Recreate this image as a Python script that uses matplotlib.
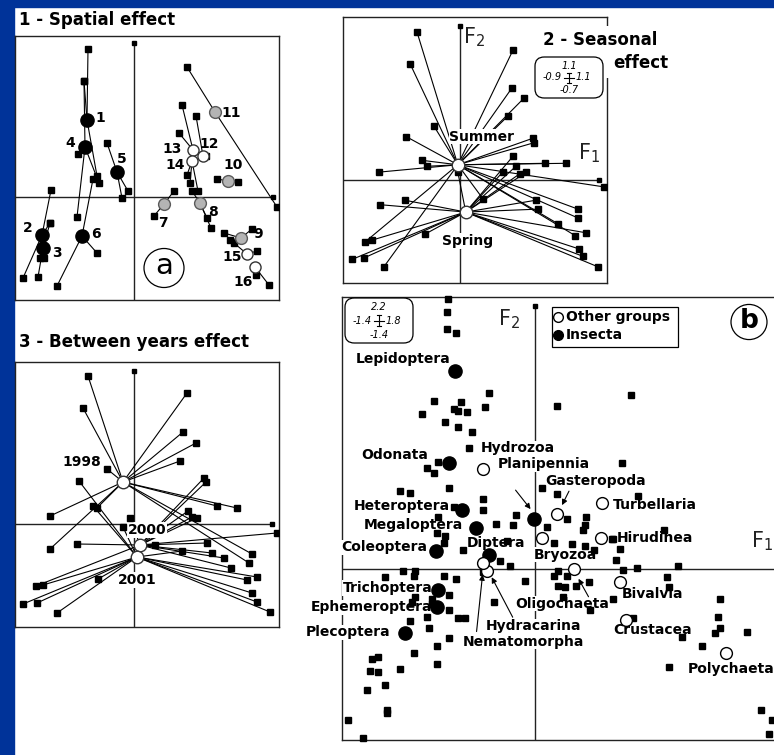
"""
Four panels of a multivariate analysis of invertebrate samples:
spatial, seasonal and between-years effects (star plots) and taxa scores (b).
"""

import matplotlib
matplotlib.use('Agg')
import matplotlib.pyplot as plt
from matplotlib.patches import Rectangle, Circle, FancyBboxPatch
from matplotlib.lines import Line2D

# ---------------- data (factor scores) ----------------

# 1 - spatial effect: 16 site centroids and their samples
site_names = [str(i) for i in range(1, 17)]
site_centres = [(-0.47, 0.77), (-0.92, -0.38), (-0.91, -0.51), (-0.49, 0.50),
                (-0.17, 0.25), (-0.52, -0.39), (0.30, -0.07), (0.66, -0.06),
                (1.07, -0.41), (0.94, 0.16), (0.81, 0.85), (0.69, 0.41),
                (0.59, 0.47), (0.58, 0.36), (1.13, -0.57), (1.21, -0.70)]
site_samples = [
    [(-0.46, 1.48), (-0.50, 1.16), (-0.37, 0.21)],
    [(-0.83, 0.07), (-1.11, -0.81), (-0.84, -0.26)],
    [(-0.96, -0.80), (-0.94, -0.61), (-0.90, -0.61), (-0.84, -0.26)],
    [(-0.50, 1.16), (-0.56, 0.43), (-0.57, -0.20), (-0.35, 0.14)],
    [(-0.27, 0.54), (-0.06, 0.06), (-0.12, -0.01)],
    [(-0.41, 0.18), (-0.77, -0.89), (-0.37, -0.56)],
    [(0.40, 0.06), (0.20, -0.19)],
    [(0.77, -0.31), (0.73, -0.21), (0.58, 0.06)],
    [(0.90, -0.36), (0.96, -0.43), (1.18, -0.32)],
    [(0.83, 0.18), (1.04, 0.15)],
    [(0.53, 1.30), (1.43, -0.10)],
    [(0.62, 0.81), (0.72, 0.41)],
    [(0.48, 0.92), (0.45, 0.64)],
    [(0.53, 0.22), (0.56, 0.14), (0.64, 0.06)],
    [(1.23, -0.54), (1.00, -0.46)],
    [(1.22, -0.78), (1.35, -0.88)],
]
site_group = ['up'] * 6 + ['mid'] * 5 + ['down'] * 5

# 2 - seasonal effect
season_names = ['Summer', 'Spring']
season_centres = [(-0.02, 0.10), (0.04, -0.22)]
season_samples = [
    [(-0.33, 1.00), (-0.38, 0.78), (0.40, 0.88), (0.39, 0.62), (0.48, 0.55),
     (0.36, 0.43), (-0.20, 0.36), (-0.41, 0.29), (0.55, 0.28), (0.56, 0.25),
     (-0.29, 0.13), (-0.62, 0.05), (-0.25, 0.09), (0.64, 0.11), (0.80, 0.11),
     (1.09, -0.05), (0.89, -0.20), (0.89, -0.26), (0.87, -0.38),
     (0.74, -0.30), (-0.72, -0.42), (-0.58, -0.59), (0.17, -0.13)],
    [(-0.61, -0.17), (-0.42, -0.14), (-0.67, -0.41), (-0.82, -0.54),
     (-0.73, -0.53), (-0.27, -0.37), (0.95, -0.36), (0.90, -0.47),
     (0.93, -0.52), (1.04, -0.59), (0.59, -0.20), (0.57, -0.14), (0.42, 0.09),
     (0.32, 0.05), (0.45, 0.04), (0.50, 0.05), (-0.02, 0.05), (0.40, 0.16)],
]

# 3 - between years effect
year_names = ['1998', '2000', '2001']
year_centres = [(-0.11, 0.42), (0.06, -0.21), (0.03, -0.33)]
year_samples = [
    [(-0.46, 1.48), (-0.51, 1.16), (0.53, 1.31), (0.49, 0.92), (0.62, 0.81),
     (0.46, 0.63), (-0.27, 0.55), (-0.84, 0.08), (-0.84, -0.25), (0.83, 0.18),
     (1.18, -0.30), (1.15, -0.39), (-0.37, 0.16), (1.03, 0.16)],
    [(1.43, -0.09), (0.90, -0.34), (0.97, -0.44), (0.73, -0.19), (0.54, 0.13),
     (0.58, 0.07), (0.63, 0.06), (0.78, -0.29), (0.21, -0.21), (-0.04, 0.06),
     (-0.57, -0.20), (-0.98, -0.62), (0.72, 0.42), (0.70, 0.46)],
    [(-0.91, -0.61), (-1.11, -0.80), (-0.97, -0.79), (-0.77, -0.89),
     (-0.36, -0.55), (1.13, -0.56), (1.23, -0.53), (1.18, -0.69),
     (1.23, -0.78), (1.36, -0.88), (0.48, -0.27), (-0.55, 0.43),
     (-0.11, -0.03), (-0.41, 0.18)],
]

# b - species (squares) and taxonomic groups (circles)
species_f1 = [-0.63, -0.64, -0.64, -0.57, -0.33, -0.73, -0.54, -0.59, -0.56, -0.49,
              -0.36, -0.82, -0.65, -0.56, -0.46, 0.16, 0.70, -0.48, 0.63, -0.78,
              -0.73, -0.98, -0.91, -0.62, 0.05, 0.16, 0.75, -0.38, -0.38, -0.14,
              -0.28, -0.16, 0.09, 0.23, 0.37, 0.36, 0.35, 0.94, -0.70, -0.71,
              -0.65, -0.66, -0.52, -0.20, 0.14, 0.27, 0.36, 0.43, 0.57, 0.62,
              0.59, -0.25, -0.18, 0.64, 0.74, 1.04, -0.96, -0.87, -1.09, -0.88,
              -0.66, -0.57, -0.38, -0.07, 0.17, 0.14, 0.23, 0.17, 0.22, 0.30,
              0.39, 0.96, 0.97, -0.62, -0.87, -0.89, -0.75, -0.75, -0.62, -0.56,
              -0.51, -0.78, -0.91, -0.77, -0.30, 0.20, 0.40, 0.57, 1.34, 0.71,
              1.33, 1.34, 1.31, 1.54, 1.07, 1.21, -0.62, -0.71, -0.88, -1.18,
              -1.14, -1.20, -1.14, -0.98, -0.71, -1.09, -1.22, -1.07, -1.07, -1.36,
              -1.25, 0.97, 1.64, 1.72, 1.70, -0.70, -0.59, 0.56]
species_f2 = [2.17, 2.07, 1.93, 1.90, 1.42, 1.35, 1.34, 1.29, 1.27, 1.26,
              1.30, 1.25, 1.18, 1.14, 1.10, 1.31, 1.40, 0.97, 0.85, 0.81,
              0.77, 0.63, 0.61, 0.65, 0.65, 0.60, 0.59, 0.56, 0.47, 0.43,
              0.36, 0.35, 0.34, 0.40, 0.42, 0.35, 0.31, 0.31, 0.42, 0.29,
              0.26, 0.21, 0.15, 0.22, 0.21, 0.20, 0.18, 0.15, 0.24, 0.16,
              0.07, 0.06, 0.02, -0.01, 0.01, 0.02, -0.02, -0.02, -0.07, -0.06,
              -0.06, -0.08, -0.03, -0.10, -0.02, -0.06, -0.06, -0.14, -0.15, -0.14,
              -0.11, -0.07, -0.15, -0.21, -0.23, -0.27, -0.24, -0.28, -0.33, -0.40,
              -0.40, -0.39, -0.42, -0.48, -0.27, -0.23, -0.33, -0.24, -0.24, -0.40,
              -0.39, -0.48, -0.52, -0.51, -0.55, -0.62, -0.56, -0.62, -0.68, -0.73,
              -0.71, -0.82, -0.83, -0.81, -0.77, -0.94, -0.98, -1.14, -1.16, -1.22,
              -1.36, -0.79, -1.14, -1.22, -1.33, 0.86, 0.50, 0.24]

insecta_names = ['Lepidoptera', 'Odonata', 'Heteroptera', 'Megaloptera', 'Coleoptera',
                 'Diptera', 'Planipennia', 'Trichoptera', 'Ephemeroptera', 'Plecoptera']
insecta_f1 = [-0.58, -0.62, -0.53, -0.43, -0.72, -0.33, -0.01, -0.70, -0.71, -0.94]
insecta_f2 = [1.59, 0.85, 0.47, 0.33, 0.14, 0.11, 0.40, -0.17, -0.31, -0.52]

other_names = ['Hydrozoa', 'Gasteropoda', 'Turbellaria', 'Hirudinea', 'Bryozoa',
               'Oligochaeta', 'Bivalvia', 'Crustacea', 'Polychaeta', 'Hydracarina',
               'Nematomorpha']
other_f1 = [-0.38, 0.16, 0.49, 0.48, 0.05, 0.28, 0.62, 0.66, 1.39, -0.35, -0.38]
other_f2 = [0.80, 0.44, 0.53, 0.25, 0.25, 0.00, -0.11, -0.41, -0.68, -0.02, 0.05]

# ---------------- layout helpers (pixel geometry of the picture) ----------------

W, H = 774, 755
BLUE = '#003399'


def fx(x):
    return x / W


def fy(y):
    return 1 - y / H


def box(x0, y0, x1, y1):
    return [fx(x0), fy(y1), (x1 - x0) / W, (y1 - y0) / H]


fig = plt.figure(figsize=(W / 100, H / 100), dpi=100)
fig.patch.set_facecolor('white')

# blue slide frame
fig.add_artist(Rectangle((0, 0), fx(14), 1, transform=fig.transFigure,
                         color=BLUE, zorder=-5))
fig.add_artist(Rectangle((0, fy(7)), 1, 1 - fy(7), transform=fig.transFigure,
                         color=BLUE, zorder=-5))

lab = dict(fontsize=10, fontweight='bold', ha='center', va='center')
wbox = dict(boxstyle='square,pad=0.05', fc='white', ec='none')


def frame(ax, xlim, ylim, vtop, hright=None):
    ax.set_xlim(xlim)
    ax.set_ylim(ylim)
    ax.set_xticks([])
    ax.set_yticks([])
    for s in ax.spines.values():
        s.set_linewidth(1.0)
        s.set_color('#222222')
    ax.plot([0, 0], [ylim[0], vtop], color='#222222', lw=1, zorder=1)
    ax.plot(0, vtop, 's', ms=3, color='k', zorder=1)
    right = xlim[1] if hright is None else hright
    ax.plot([xlim[0], right], [0, 0], color='#222222', lw=1, zorder=1)
    if hright is not None:
        ax.plot(hright, 0, 's', ms=3, color='k', zorder=1)


def stars(ax, centres, samples):
    for (cx, cy), pts in zip(centres, samples):
        for px, py in pts:
            ax.plot([cx, px], [cy, py], color='k', lw=0.8, zorder=2)
            ax.plot(px, py, 's', ms=3.8, color='k', zorder=4)


def fig_line(x0, y0, x1, y1):
    fig.add_artist(Line2D([fx(x0), fx(x1)], [fy(y0), fy(y1)],
                          transform=fig.transFigure, color='k', lw=0.8, zorder=6))


def scale_box(x0, y0, x1, y1, top, left, right, bottom):
    fig.add_artist(FancyBboxPatch((fx(x0), fy(y1)), (x1 - x0) / W, (y1 - y0) / H,
                                  boxstyle='round,pad=0,rounding_size=0.012',
                                  transform=fig.transFigure, fc='white', ec='k',
                                  lw=0.9, zorder=5))
    cx = (x0 + x1) / 2
    cy = (y0 + y1) / 2
    st = dict(fontsize=7, style='italic', va='center', zorder=6)
    fig.text(fx(cx), fy(y0 + 9), top, ha='center', **st)
    fig.text(fx(cx - 7), fy(cy), left, ha='right', **st)
    fig.text(fx(cx + 7), fy(cy), right, ha='left', **st)
    fig.text(fx(cx), fy(y1 - 8), bottom, ha='center', **st)
    fig_line(cx - 5, cy, cx + 5, cy)
    fig_line(cx, cy - 5, cx, cy + 5)
    fig_line(cx - 2, cy - 5, cx + 2, cy - 5)
    fig_line(cx - 2, cy + 5, cx + 2, cy + 5)


def f_label(x, y, sub):
    fig.text(fx(x), fy(y), r'$\mathregular{F_%s}$' % sub, fontsize=15,
             color='#222222', ha='left', va='baseline', zorder=6)


# ---------------- 1 - spatial effect ----------------
ax1 = fig.add_axes(box(15, 36, 279, 300))
frame(ax1, (-1.19, 1.45), (-1.03, 1.61), vtop=1.54, hright=1.39)
stars(ax1, site_centres, site_samples)
site_style = {'up': dict(mfc='k', mec='k', ms=9.5),
              'mid': dict(mfc='#b4b4b4', mec='#5a5a5a', ms=8.5),
              'down': dict(mfc='white', mec='#333333', ms=8)}
site_offsets = [(13, 2), (-14, 7), (14, -5), (-15, 4), (5, 13), (14, 2), (-1, -19),
                (13, -9), (17, 4), (5, 16), (16, -1), (6, 12), (-21, 1), (-17, -4),
                (-15, -3), (-12, -15)]
for name, (cx, cy), g, off in zip(site_names, site_centres, site_group, site_offsets):
    ax1.plot(cx, cy, 'o', mew=1, zorder=5, **site_style[g])
    ax1.annotate(name, (cx, cy), xytext=off, textcoords='offset pixels', zorder=6, **lab)
fig.add_artist(Circle((fx(164), fy(268)), 20 / W, transform=fig.transFigure,
                      fc='none', ec='k', lw=0.9, zorder=6))
fig.text(fx(164), fy(266), 'a', fontsize=21, ha='center', va='center', zorder=6)
fig.text(fx(19), fy(20), '1 - Spatial effect', fontsize=12, fontweight='bold',
         ha='left', va='center')

# ---------------- 2 - seasonal effect ----------------
ax2 = fig.add_axes(box(343, 17, 607, 283))
frame(ax2, (-0.89, 1.11), (-0.70, 1.10), vtop=1.04, hright=1.05)
stars(ax2, season_centres, season_samples)
season_offsets = [(24, 28), (2, -29)]
for name, (cx, cy), off in zip(season_names, season_centres, season_offsets):
    ax2.annotate(name, (cx, cy), xytext=off, textcoords='offset pixels',
                 bbox=wbox, zorder=3, **lab)
    ax2.plot(cx, cy, 'o', mfc='white', mec='#333333', ms=9, mew=1, zorder=5)
f_label(463, 43, '2')
f_label(578, 159, '1')
scale_box(535, 57, 603, 98, '1.1', '-0.9', '1.1', '-0.7')
fig.add_artist(Rectangle((fx(600), fy(78)), 72 / W, 52 / H, transform=fig.transFigure,
                         fc='white', ec='none', zorder=4))
fig.text(fx(543), fy(40), '2 - Seasonal', fontsize=12, fontweight='bold',
         ha='left', va='center', zorder=6)
fig.text(fx(613), fy(63), 'effect', fontsize=12, fontweight='bold',
         ha='left', va='center', zorder=6)

# ---------------- 3 - between years effect ----------------
ax3 = fig.add_axes(box(15, 362, 279, 627))
frame(ax3, (-1.19, 1.45), (-1.03, 1.62), vtop=1.53, hright=1.38)
stars(ax3, year_centres, year_samples)
year_offsets = [(-41, 20), (7, 15), (0, -23)]
for name, (cx, cy), off in zip(year_names, year_centres, year_offsets):
    ax3.annotate(name, (cx, cy), xytext=off, textcoords='offset pixels',
                 bbox=wbox, zorder=3, **lab)
    ax3.plot(cx, cy, 'o', mfc='white', mec='#333333', ms=9, mew=1, zorder=5)
fig.text(fx(19), fy(342), '3 - Between years effect', fontsize=12, fontweight='bold',
         ha='left', va='center')

# ---------------- b - taxa ----------------
axb = fig.add_axes(box(342, 297, 783, 740))
frame(axb, (-1.4, 1.8), (-1.38, 2.19), vtop=2.12)
axb.plot(species_f1, species_f2, 's', ms=3.8, color='k', zorder=4, clip_on=False)

insecta_labels = [((-5, 12), 'right'), ((-21, 8), 'right'), ((-12, 4), 'right'),
                  ((-13, 3), 'right'), ((-8, 4), 'right'), ((-23, 12), 'left'),
                  ((-36, 55), 'left'), ((-6, 2), 'right'), ((-5, 0), 'right'),
                  ((-15, 1), 'right')]
other_labels = [((-2, 21), 'left'), ((-12, 33), 'left'), ((10, -2), 'left'),
                ((16, 0), 'left'), ((-8, -17), 'left'), ((-58, -35), 'left'),
                ((1, -12), 'left'), ((-13, -10), 'left'), ((-39, -16), 'left'),
                ((-1, -55), 'left'), ((-20, -79), 'left')]
# arrows from label to circle: start and end offsets in pixels
arrows = {'Planipennia': ((-18, 29), (-3, 10)),
          'Gasteropoda': ((12, 23), (5, 9)),
          'Oligochaeta': ((15, -28), (5, -10)),
          'Hydracarina': ((26, -46), (5, -6)),
          'Nematomorpha': ((-6, -69), (0, -12))}

blab = dict(fontsize=10, fontweight='bold', va='center', zorder=3, bbox=wbox,
            annotation_clip=False)
for names, xs, ys, labels, fill, ms in [
        (insecta_names, insecta_f1, insecta_f2, insecta_labels, 'k', 9.5),
        (other_names, other_f1, other_f2, other_labels, 'white', 8.5)]:
    for name, x, y, (off, ha) in zip(names, xs, ys, labels):
        axb.annotate(name, (x, y), xytext=off, textcoords='offset pixels', ha=ha, **blab)
        axb.plot(x, y, 'o', mfc=fill, mec='k', ms=ms, mew=1, zorder=5)
        if name in arrows:
            (sx, sy), (ex, ey) = arrows[name]
            tr = axb.transData.transform((x, y))
            end = axb.transData.inverted().transform((tr[0] + ex, tr[1] + ey))
            axb.annotate('', xy=end, xytext=(sx - ex, sy - ey), textcoords='offset pixels',
                         arrowprops=dict(arrowstyle='-|>', lw=0.8, color='k',
                                         shrinkA=0, shrinkB=0, mutation_scale=8),
                         zorder=6)

f_label(498, 325, '2')
f_label(751, 547, '1')
scale_box(345, 298, 413, 343, '2.2', '-1.4', '1.8', '-1.4')

# legend
fig.add_artist(Rectangle((fx(552), fy(347)), 126 / W, 40 / H, transform=fig.transFigure,
                         fc='white', ec='k', lw=0.9, zorder=5))
fig.add_artist(Line2D([fx(558)], [fy(317)], marker='o', mfc='white', mec='k', ms=7,
                      transform=fig.transFigure, zorder=6))
fig.add_artist(Line2D([fx(558)], [fy(335)], marker='o', mfc='k', mec='k', ms=7,
                      transform=fig.transFigure, zorder=6))
fig.text(fx(566), fy(317), 'Other groups', fontsize=10, fontweight='bold',
         ha='left', va='center', zorder=6)
fig.text(fx(566), fy(335), 'Insecta', fontsize=10, fontweight='bold',
         ha='left', va='center', zorder=6)

fig.add_artist(Circle((fx(749), fy(322)), 18 / W, transform=fig.transFigure,
                      fc='white', ec='k', lw=0.9, zorder=6))
fig.text(fx(749), fy(321), 'b', fontsize=19, fontweight='bold', ha='center',
         va='center', zorder=7)

plt.savefig('out.png', dpi=100, facecolor=fig.get_facecolor())
